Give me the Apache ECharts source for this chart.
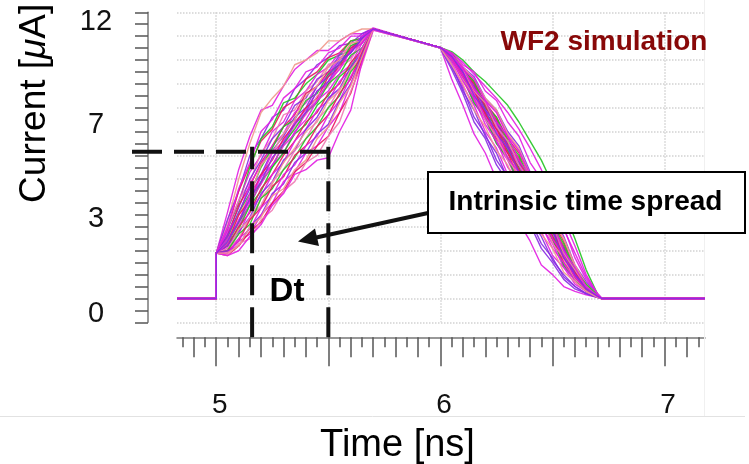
<!DOCTYPE html>
<html><head><meta charset="utf-8">
<script src="https://cdn.jsdelivr.net/npm/echarts@6/dist/echarts.min.js"></script>
<style>html,body{margin:0;padding:0;background:#fff}#c{width:749px;height:464px}</style>
</head><body><div id="c"></div>
<script>
// ---------- axis ranges & tick labels ----------
const X_MIN = 4.825, X_MAX = 7.18;
const Y_MIN = -1, Y_MAX = 12;
const X_LABELS = [5, 6, 7];
const Y_LABELS = [0, 3, 7, 12];

// ---------- shared waveform anchors ----------
const BASELINE_T = [4.825, 5.0];   // current is 0 before the step
const STEP_V = 1.9;                 // step height at t = 5.0 ns
const END_T = [6.72, 7.18];         // back to 0 after the fall
const RISE_T = [5.05,5.10,5.15,5.20,5.25,5.30,5.35,5.40,5.45,5.50,5.55,5.60,5.65,5.70];
const FALL_T = [6.00,6.05,6.10,6.15,6.20,6.25,6.30,6.35,6.40,6.45,6.50,6.55,6.60,6.65,6.70];

// ---------- per-waveform values (uA) ----------
const RISE = [
 [3.6,5.4,6.8,7.9,8.1,8.9,9.6,10.0,10.4,10.4,10.8,11.1,11.1,11.35],
 [3.2,5.0,6.5,7.8,8.4,8.9,9.8,10.0,10.3,10.8,10.8,11.1,11.3,11.3],
 [3.3,4.5,6.0,6.7,7.6,7.9,8.8,9.2,9.8,10.1,10.6,10.7,11.1,11.3],
 [2.9,4.5,5.6,6.6,7.1,8.0,8.3,9.2,9.5,10.1,10.3,10.8,10.9,11.3],
 [2.9,4.0,5.5,6.7,7.2,8.2,8.4,9.0,9.4,10.0,10.2,10.8,10.9,11.3],
 [2.9,4.1,5.3,6.0,7.0,7.4,8.3,8.7,9.4,9.7,10.3,10.5,11.0,11.3],
 [3.0,4.1,4.9,6.1,6.7,7.7,7.9,8.7,9.1,9.8,10.0,10.7,10.8,11.3],
 [2.7,3.8,5.0,5.8,6.7,7.2,8.1,8.4,9.2,9.5,10.2,10.4,11.0,11.3],
 [2.6,3.9,4.7,5.7,6.4,7.2,7.7,8.6,8.9,9.5,9.8,10.5,10.8,11.3],
 [2.8,3.5,4.8,5.6,6.4,6.9,7.8,8.2,8.9,9.4,10.1,10.3,10.9,11.3],
 [2.5,3.6,4.4,5.5,6.3,7.2,7.5,8.3,8.6,9.4,9.8,10.6,10.8,11.3],
 [2.6,3.6,4.6,5.2,6.2,6.8,7.6,8.0,8.9,9.3,10.0,10.3,10.9,11.3],
 [2.4,3.5,4.3,5.6,6.1,6.9,7.5,8.5,8.9,9.7,10.0,10.7,10.8,11.3],
 [2.5,3.2,4.4,5.1,6.1,6.6,7.4,7.9,8.7,9.0,9.8,10.1,10.8,11.3],
 [2.3,3.5,4.1,5.2,5.8,6.7,7.3,8.0,8.4,9.3,9.7,10.4,10.7,11.3],
 [2.4,3.1,4.2,4.8,5.9,6.4,7.2,7.7,8.5,8.9,9.7,10.0,10.8,11.3],
 [2.3,3.2,3.9,4.9,5.5,6.5,7.1,7.8,8.2,9.0,9.4,10.2,10.5,11.3],
 [2.2,3.0,4.0,4.8,5.6,6.1,7.0,7.5,8.3,8.7,9.4,9.8,10.7,11.3],
 [2.3,2.9,3.9,4.5,5.5,6.1,6.9,7.3,8.1,8.5,9.3,9.7,10.5,11.3],
 [2.2,3.0,3.6,4.6,5.2,6.0,6.6,7.4,7.8,8.6,9.0,9.9,10.4,11.3],
 [2.1,2.7,3.7,4.3,5.2,5.7,6.6,7.1,7.9,8.3,9.1,9.6,10.5,11.3],
 [2.2,2.8,3.4,4.4,4.9,5.8,6.2,7.1,7.6,8.4,8.8,9.7,10.3,11.3],
 [2.0,2.9,3.3,4.2,4.8,5.7,6.3,7.0,7.4,8.3,8.7,9.6,10.2,11.3],
 [2.1,2.5,3.4,3.9,4.9,5.4,6.2,6.7,7.5,8.0,8.8,9.3,10.4,11.3],
 [2.0,2.7,3.1,4.2,4.6,5.4,5.9,6.7,7.2,8.0,8.5,9.5,10.1,11.3],
 [2.0,2.4,3.3,3.8,4.7,5.1,6.0,6.4,7.2,7.7,8.6,9.2,10.3,11.3],
 [1.9,2.5,2.9,3.8,4.3,5.2,5.6,6.4,6.8,7.7,8.3,9.3,10.0,11.3],
 [2.0,2.2,3.0,3.5,4.4,4.8,5.7,6.1,6.9,7.3,8.3,9.0,10.2,11.3],
 [1.9,2.4,2.7,3.5,4.0,4.9,5.3,6.1,6.4,7.2,7.8,9.0,9.9,11.3],
 [1.8,2.2,2.8,3.2,4.0,4.5,5.3,5.7,6.4,6.8,7.8,8.6,10.0,11.3],
 [1.8,2.3,2.5,3.3,3.7,4.5,4.9,5.7,6.0,6.8,7.4,8.7,9.8,11.25],
 [1.8,2.0,2.6,3.1,3.9,4.4,5.2,5.4,5.8,5.9,7.0,7.9,9.9,11.25],
 [1.9,2.2,3.0,3.4,4.3,4.6,5.4,5.8,6.7,7.2,8.2,8.9,10.1,11.3],
 [2.3,3.3,4.1,5.1,5.6,6.4,6.9,7.8,8.3,9.1,9.6,10.4,10.7,11.3],
 [3.0,4.6,5.7,7.0,7.5,8.4,8.8,9.5,9.7,10.3,10.5,11.0,11.0,11.3],
 [2.4,3.2,4.2,4.9,5.9,6.5,7.3,7.8,8.7,9.1,9.9,10.3,10.9,11.3]
];
const FALL = [
 [10.5,9.2,8.1,6.9,6.1,5.0,4.3,3.2,2.4,1.4,1.0,0.5,0.3,0.15,0.05],
 [10.52,10.1,9.2,8.5,7.5,6.9,5.9,5.3,4.2,3.5,2.4,1.7,0.9,0.4,0.1],
 [10.5,9.8,8.7,7.9,6.8,6.1,5.0,4.4,3.3,2.6,1.6,1.0,0.5,0.2,0.05],
 [10.52,10.2,9.5,9.0,8.0,7.5,6.5,5.9,4.8,4.1,3.0,2.2,1.1,0.5,0.1],
 [10.52,10.35,10.0,9.5,9.1,8.6,8.1,7.4,6.6,5.8,4.8,3.7,2.5,1.2,0.2],
 [10.52,10.0,9.2,8.2,7.5,6.5,5.8,4.8,4.1,3.0,2.3,1.3,0.8,0.3,0.1],
 [10.52,10.15,9.4,8.8,7.7,7.1,6.1,5.5,4.5,3.8,2.7,2.0,1.0,0.5,0.1],
 [10.5,9.6,8.6,7.4,6.7,5.6,4.9,3.8,3.1,2.1,1.5,0.8,0.4,0.2,0.05],
 [10.52,10.25,9.6,9.1,8.2,7.6,6.7,6.1,5.1,4.4,3.2,2.4,1.3,0.6,0.15],
 [10.52,10.05,9.3,8.3,7.6,6.6,5.9,4.9,4.2,3.1,2.5,1.4,0.8,0.3,0.1],
 [10.52,10.2,9.4,8.9,8.0,7.4,6.4,5.7,4.7,4.0,2.9,2.1,1.1,0.5,0.1],
 [10.52,10.3,9.7,9.3,8.4,7.9,7.0,6.4,5.3,4.6,3.4,2.6,1.4,0.7,0.2],
 [10.52,10.1,9.5,8.5,7.8,6.8,6.2,5.2,4.5,3.4,2.7,1.6,1.0,0.4,0.1],
 [10.5,9.9,8.9,8.1,7.0,6.3,5.2,4.6,3.5,2.8,1.8,1.3,0.6,0.3,0.05],
 [10.52,10.2,9.5,9.0,8.1,7.5,6.4,5.8,4.7,4.0,2.8,2.1,1.1,0.5,0.1],
 [10.52,10.25,9.7,9.2,8.3,7.8,6.9,6.2,5.1,4.4,3.3,2.5,1.3,0.6,0.15],
 [10.52,10.0,9.3,8.2,7.6,6.5,5.9,4.8,4.2,3.2,2.5,1.4,0.8,0.3,0.1],
 [10.52,10.3,9.8,9.5,8.7,8.3,7.4,6.8,5.7,5.0,3.8,3.0,1.7,0.8,0.2],
 [10.52,10.15,9.3,8.7,7.8,7.2,6.2,5.5,4.5,3.8,2.6,1.9,0.9,0.4,0.1],
 [10.52,10.1,9.4,8.4,7.8,6.7,6.1,5.0,4.4,3.3,2.6,1.5,0.9,0.4,0.1],
 [10.52,10.2,9.4,8.8,7.9,7.3,6.3,5.6,4.6,3.9,2.8,2.0,1.0,0.5,0.1],
 [10.5,9.7,8.8,7.6,6.9,5.8,5.1,4.0,3.3,2.3,1.7,0.9,0.5,0.2,0.05],
 [10.52,10.3,9.7,9.2,8.4,7.9,6.9,6.3,5.2,4.5,3.3,2.5,1.4,0.6,0.15],
 [10.52,10.05,9.2,8.5,7.5,6.8,5.8,5.2,4.1,3.4,2.3,1.7,0.8,0.4,0.1],
 [10.52,10.3,9.6,9.1,8.1,7.6,6.6,6.0,4.9,4.2,3.1,2.3,1.2,0.6,0.15],
 [10.52,10.15,9.6,8.7,8.1,7.1,6.4,5.4,4.7,3.6,2.9,1.7,1.1,0.4,0.1],
 [10.52,10.0,9.1,8.4,7.3,6.6,5.5,4.9,3.8,3.1,2.1,1.5,0.7,0.3,0.1],
 [10.52,10.2,9.5,8.9,7.9,7.4,6.4,5.7,4.6,3.9,2.8,2.1,1.0,0.5,0.1],
 [10.52,10.3,9.9,9.4,8.9,8.4,7.8,7.1,6.3,5.4,4.4,3.3,2.2,1.0,0.2],
 [10.52,10.1,9.3,8.7,7.7,7.1,6.1,5.4,4.4,3.7,2.5,1.8,0.9,0.4,0.1],
 [10.52,10.2,9.6,8.7,8.2,7.2,6.6,5.6,4.9,3.8,3.1,1.9,1.2,0.5,0.1],
 [10.52,10.25,9.6,9.2,8.3,7.8,6.8,6.2,5.2,4.6,3.5,2.9,1.9,0.9,0.2],
 [10.5,9.8,9.0,7.9,7.2,6.2,5.6,4.5,3.8,2.7,2.1,1.1,0.7,0.3,0.05],
 [10.52,10.1,9.3,8.6,7.6,7.0,5.9,5.3,4.3,3.6,2.5,1.8,0.9,0.4,0.1],
 [10.52,10.2,9.7,8.8,8.3,7.4,6.8,5.8,5.1,4.0,3.2,2.0,1.3,0.5,0.1],
 [10.52,10.15,9.5,8.5,7.9,6.9,6.3,5.3,4.6,3.5,2.8,1.7,1.0,0.4,0.1]
];
const M='#e21de2', P='#8a2be2', G='#22c422', C='#e8175d', K='#f07ab4', S='#f0998c';
const COLORS = [M,S,P,C,G,M,K,P,C,M,G,P,S,M,C,K,G,M,G,C,M,P,S,K,G,C,M,P,M,C,K,M,S,M,M,P];

// ---------- annotation values ----------
const DT_T = [5.16, 5.5];     // ns, dashed verticals
const DT_LEVEL = 6.15;        // uA, dashed horizontal
const LEVEL_END_T = 5.55;

const FONT = '"Liberation Sans", Arial, Helvetica, sans-serif';

function curve(i) {
  const pts = [[BASELINE_T[0], 0], [BASELINE_T[1], 0], [BASELINE_T[1], STEP_V]];
  RISE_T.forEach((t, k) => pts.push([t, RISE[i][k]]));
  FALL_T.forEach((t, k) => pts.push([t, FALL[i][k]]));
  pts.push([END_T[0], 0], [END_T[1], 0]);
  return pts;
}

// x tick classes (0.5 long, 0.1 medium, 0.05 short)
const LONG = [], MED = [], SHORT = [];
for (let k = Math.ceil(X_MIN * 20); k <= Math.floor(X_MAX * 20); k++) {
  const v = +(k / 20).toFixed(2);
  if (k % 10 === 0) LONG.push(v); else if (k % 2 === 0) MED.push(v); else SHORT.push(v);
}

const tickColor = '#555';
const baseX = {
  type: 'value', min: X_MIN, max: X_MAX, position: 'bottom', offset: 15, gridIndex: 0,
  axisLine: { show: false, onZero: false },
  axisLabel: { show: false }, splitLine: { show: false }
};

const chart = echarts.init(document.getElementById('c'), null, { renderer: 'canvas' });
const option = {
  animation: false,
  backgroundColor: '#fff',
  grid: { left: 177, right: 44, top: 12.3, bottom: 141.7, containLabel: false, outerBoundsMode: 'none' },
  xAxis: [
    Object.assign({}, baseX, {
      axisLine: { show: true, onZero: false, lineStyle: { color: '#777', width: 1.5 } },
      axisTick: { show: true, customValues: MED, length: 20, lineStyle: { color: tickColor, width: 1.5 } },
      name: 'Time [ns]', nameLocation: 'middle', nameGap: 89,
      nameTextStyle: { fontSize: 38, fontFamily: FONT, color: '#000', padding: [0, 87, 0, 0] }
    }),
    Object.assign({}, baseX, {
      axisTick: { show: true, customValues: SHORT, length: 10, lineStyle: { color: tickColor, width: 1.5 } }
    }),
    Object.assign({}, baseX, {
      axisTick: { show: true, customValues: LONG, length: 29, lineStyle: { color: tickColor, width: 1.5 } },
      axisLabel: { show: true, customValues: X_LABELS, fontSize: 28, fontFamily: FONT, color: '#111',
                   verticalAlign: 'middle', margin: 68, padding: [0, 0, 0, 7] },
      splitLine: { show: true, lineStyle: { color: '#d2d2d2', type: 'dotted', width: 1.5 } }
    })
  ],
  yAxis: {
    type: 'value', min: Y_MIN, max: Y_MAX, interval: 1, position: 'left', offset: 29,
    axisLine: { show: true, onZero: false, lineStyle: { color: '#777', width: 1.5 } },
    axisTick: { show: true, length: 13, lineStyle: { color: tickColor, width: 1.5 } },
    minorTick: { show: true, splitNumber: 2, length: 13, lineStyle: { color: tickColor, width: 1.5 } },
    splitLine: { show: true, lineStyle: { color: '#d2d2d2', type: 'dotted', width: 1.5 } },
    axisLabel: {
      customValues: Y_LABELS, align: 'center', margin: 52, fontSize: 29, fontFamily: FONT, color: '#111',
      formatter: v => '{l' + v + '|' + v + '}',
      rich: {
        l12: { fontSize: 29, fontFamily: FONT, color: '#111', padding: [19, 0, 0, 0] },
        l7:  { fontSize: 29, fontFamily: FONT, color: '#111', padding: [0, 0, 14, 0] },
        l3:  { fontSize: 29, fontFamily: FONT, color: '#111', padding: [0, 0, 15, 0] },
        l0:  { fontSize: 29, fontFamily: FONT, color: '#111', padding: [31, 0, 0, 0] }
      }
    },
    name: 'Current [{mu|\u03BC}A]', nameLocation: 'middle', nameGap: 95,
    nameTextStyle: {
      fontSize: 37, fontFamily: FONT, color: '#000', padding: [0, 0, 0, 128],
      rich: { mu: { fontSize: 37, fontFamily: FONT, fontStyle: 'italic', color: '#000' } }
    }
  },
  series: RISE.map((_, i) => ({
    type: 'line', xAxisIndex: 0, yAxisIndex: 0, data: curve(i),
    symbol: 'none', showSymbol: false, silent: true,
    lineStyle: { color: COLORS[i], width: 1.4, opacity: 0.9 }
  }))
};
chart.setOption(option);

// ---------- annotations ----------
const px = t => chart.convertToPixel({ xAxisIndex: 0 }, t);
const py = v => chart.convertToPixel({ yAxisIndex: 0 }, v);
const xAxisY = py(Y_MIN) + 15;
const yAxisX = px(X_MIN) - 29;
const lvlY = py(DT_LEVEL);
const dash = { stroke: '#111', lineWidth: 4, lineDash: [30, 12] };
const tip = [298, 241.5], tail = [428, 213];
const g = [
  { type: 'line', shape: { x1: 0, y1: 416.5, x2: 745, y2: 416.5 }, style: { stroke: '#e2e2e2', lineWidth: 1 }, z: 1 },
  { type: 'line', shape: { x1: 704.5, y1: 0, x2: 704.5, y2: 416 }, style: { stroke: '#f0f0f0', lineWidth: 1 }, z: 1 },
  { type: 'line', shape: { x1: yAxisX - 16, y1: lvlY, x2: px(LEVEL_END_T), y2: lvlY }, style: dash, z: 100 },
  { type: 'line', shape: { x1: px(DT_T[0]), y1: xAxisY, x2: px(DT_T[0]), y2: lvlY - 5 }, style: dash, z: 100 },
  { type: 'line', shape: { x1: px(DT_T[1]), y1: xAxisY, x2: px(DT_T[1]), y2: lvlY - 5 }, style: dash, z: 100 },
  { type: 'line', shape: { x1: tail[0], y1: tail[1], x2: 314, y2: 238 }, style: { stroke: '#111', lineWidth: 4 }, z: 100 },
  { type: 'polygon', shape: { points: [tip, [319, 246], [315, 228.5]] }, style: { fill: '#111' }, z: 100 },
  { type: 'rect', shape: { x: 428, y: 172, width: 317, height: 61 }, style: { fill: '#fff', stroke: '#000', lineWidth: 2 }, z: 100 },
  { type: 'text', style: { text: 'Intrinsic time spread', x: 585.5, y: 202, font: 'bold 28px ' + FONT, fill: '#000', align: 'center', verticalAlign: 'middle' }, z: 101 },
  { type: 'text', style: { text: 'Dt', x: 287, y: 292, font: 'bold 33px ' + FONT, fill: '#000', align: 'center', verticalAlign: 'middle' }, z: 101 },
  { type: 'text', style: { text: 'WF2 simulation', x: 604, y: 42, font: 'bold 28px ' + FONT, fill: '#880808', align: 'center', verticalAlign: 'middle' }, z: 101 }
];
chart.setOption({ graphic: g });
</script></body></html>
